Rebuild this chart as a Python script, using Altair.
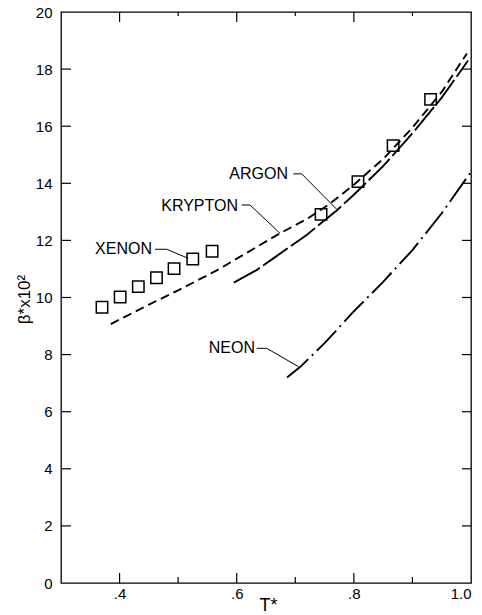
import altair as alt
import pandas as pd

# ---- data ----
xenon_T = [0.370, 0.401, 0.432, 0.463, 0.493, 0.525, 0.558, 0.744, 0.807, 0.867, 0.931]
xenon_B = [9.66, 10.02, 10.38, 10.69, 11.01, 11.35, 11.62, 12.91, 14.06, 15.32, 16.94]

krypton_T = [0.385, 0.45, 0.50, 0.566, 0.62, 0.674, 0.72, 0.76, 0.80, 0.85, 0.90, 0.95, 0.993]
krypton_B = [9.07, 9.75, 10.25, 10.95, 11.6, 12.25, 12.75, 13.3, 13.95, 14.85, 15.95, 17.2, 18.55]

argon_T = [0.595, 0.634, 0.6625, 0.72, 0.7707, 0.80, 0.85, 0.90, 0.95, 0.995]
argon_B = [10.52, 10.96, 11.37, 12.2, 13.05, 13.6, 14.6, 15.75, 17.0, 18.3]

neon_T = [0.686, 0.709, 0.75, 0.797, 0.85, 0.90, 0.95, 1.0]
neon_B = [7.2, 7.58, 8.4, 9.45, 10.55, 11.66, 12.95, 14.4]

label_text = ["XENON", "KRYPTON", "ARGON", "NEON"]
label_T = [0.4554, 0.6022, 0.6876, 0.6312]
label_B = [11.69, 13.22, 14.33, 8.22]

leader_id = ["X", "X", "X", "K", "K", "K", "A", "A", "A", "N", "N", "N"]
leader_ord = [0, 1, 2, 0, 1, 2, 0, 1, 2, 0, 1, 2]
leader_T = [0.4605, 0.4805, 0.5173, 0.6085, 0.6227, 0.6739, 0.6966, 0.711, 0.7707, 0.6341, 0.6512, 0.7052]
leader_B = [11.69, 11.69, 11.37, 13.24, 13.24, 12.25, 14.33, 14.33, 13.09, 8.22, 8.22, 7.58]

x_major = [0.4, 0.6, 0.8]
x_minor = [0.5, 0.7, 0.9]
y_ticks = [2, 4, 6, 8, 10, 12, 14, 16, 18]
x_label_values = [0.4, 0.6, 0.8, 1.0]
y_label_values = [0, 2, 4, 6, 8, 10, 12, 14, 16, 18, 20]

W, H = 410, 571
FONT = "Liberation Sans"

xscale = alt.Scale(domain=[0.3, 1.0], nice=False, zero=False)
yscale = alt.Scale(domain=[0, 20], nice=False, zero=True)

xaxis = alt.Axis(values=x_label_values, ticks=False, domain=False, grid=False,
                 labelExpr="datum.value == 1 ? '1.0' : replace(format(datum.value, '.1f'), '0.', '.')",
                 labelFont=FONT, labelFontSize=15, labelColor="black", labelPadding=3,
                 title="T*", titleFont=FONT, titleFontSize=18, titleFontWeight="normal",
                 titleColor="black", titleBaseline="middle", titleY=22, titleX=207)
yaxis = alt.Axis(values=y_label_values, ticks=False, domain=False, grid=False, format="d",
                 labelFont=FONT, labelFontSize=15, labelColor="black", labelPadding=9,
                 title="β*x10²", titleFont=FONT, titleFontSize=17, titleFontWeight="normal",
                 titleColor="black", titleBaseline="middle", titleX=-37, titleY=287, titleAngle=-90)


def X(field="T"):
    return alt.X(f"{field}:Q", scale=xscale, axis=xaxis)


def Y(field="B"):
    return alt.Y(f"{field}:Q", scale=yscale, axis=yaxis)


xen = pd.DataFrame({"T": xenon_T, "B": xenon_B})
kr = pd.DataFrame({"T": krypton_T, "B": krypton_B})
ar = pd.DataFrame({"T": argon_T, "B": argon_B})
ne = pd.DataFrame({"T": neon_T, "B": neon_B})
lab = pd.DataFrame({"T": label_T, "B": label_B, "txt": label_text})
lead = pd.DataFrame({"T": leader_T, "B": leader_B, "id": leader_id, "o": leader_ord})
xmaj = pd.DataFrame({"T": x_major})
xmin = pd.DataFrame({"T": x_minor})
yt = pd.DataFrame({"B": y_ticks})

line_w = 1.9
krypton = alt.Chart(kr).mark_line(color="black", strokeWidth=line_w, strokeDash=[9, 5]).encode(x=X(), y=Y())
argon = alt.Chart(ar).mark_line(color="black", strokeWidth=line_w, strokeDash=[30, 4]).encode(x=X(), y=Y())
neon = alt.Chart(ne).mark_line(color="black", strokeWidth=line_w, strokeDash=[28, 5, 2, 5]).encode(x=X(), y=Y())
xenon = alt.Chart(xen).mark_point(shape="square", filled=False, color="black", size=130,
                                   strokeWidth=1.5, opacity=1).encode(x=X(), y=Y())

leaders = alt.Chart(lead).mark_line(color="black", strokeWidth=1).encode(
    x=X(), y=Y(), detail="id:N", order="o:Q")
labels = alt.Chart(lab).mark_text(align="right", baseline="middle", font=FONT, fontSize=16,
                                  color="black").encode(x=X(), y=Y(), text="txt:N")

tick_style = dict(color="black", strokeWidth=1.2)
bot_major = alt.Chart(xmaj).mark_rule(**tick_style).encode(x=X(), y=alt.value(H), y2=alt.value(H - 10))
bot_minor = alt.Chart(xmin).mark_rule(**tick_style).encode(x=X(), y=alt.value(H), y2=alt.value(H - 6))
top_major = alt.Chart(xmaj).mark_rule(**tick_style).encode(x=X(), y=alt.value(0), y2=alt.value(10))
top_minor = alt.Chart(xmin).mark_rule(**tick_style).encode(x=X(), y=alt.value(0), y2=alt.value(4))
left_t = alt.Chart(yt).mark_rule(**tick_style).encode(y=Y(), x=alt.value(0), x2=alt.value(10))
right_t = alt.Chart(yt).mark_rule(**tick_style).encode(y=Y(), x=alt.value(W), x2=alt.value(W - 9))

chart = alt.layer(
    bot_major, bot_minor, top_major, top_minor, left_t, right_t,
    krypton, argon, neon, xenon, leaders, labels
).properties(
    width=W, height=H,
    autosize=alt.AutoSizeParams(type="none"),
    padding={"left": 61, "top": 12, "right": 11, "bottom": 32},
    background="white",
).configure_view(stroke="black", strokeWidth=1.3)

chart.save("out.html", embed_options={"renderer": "svg", "actions": False})
